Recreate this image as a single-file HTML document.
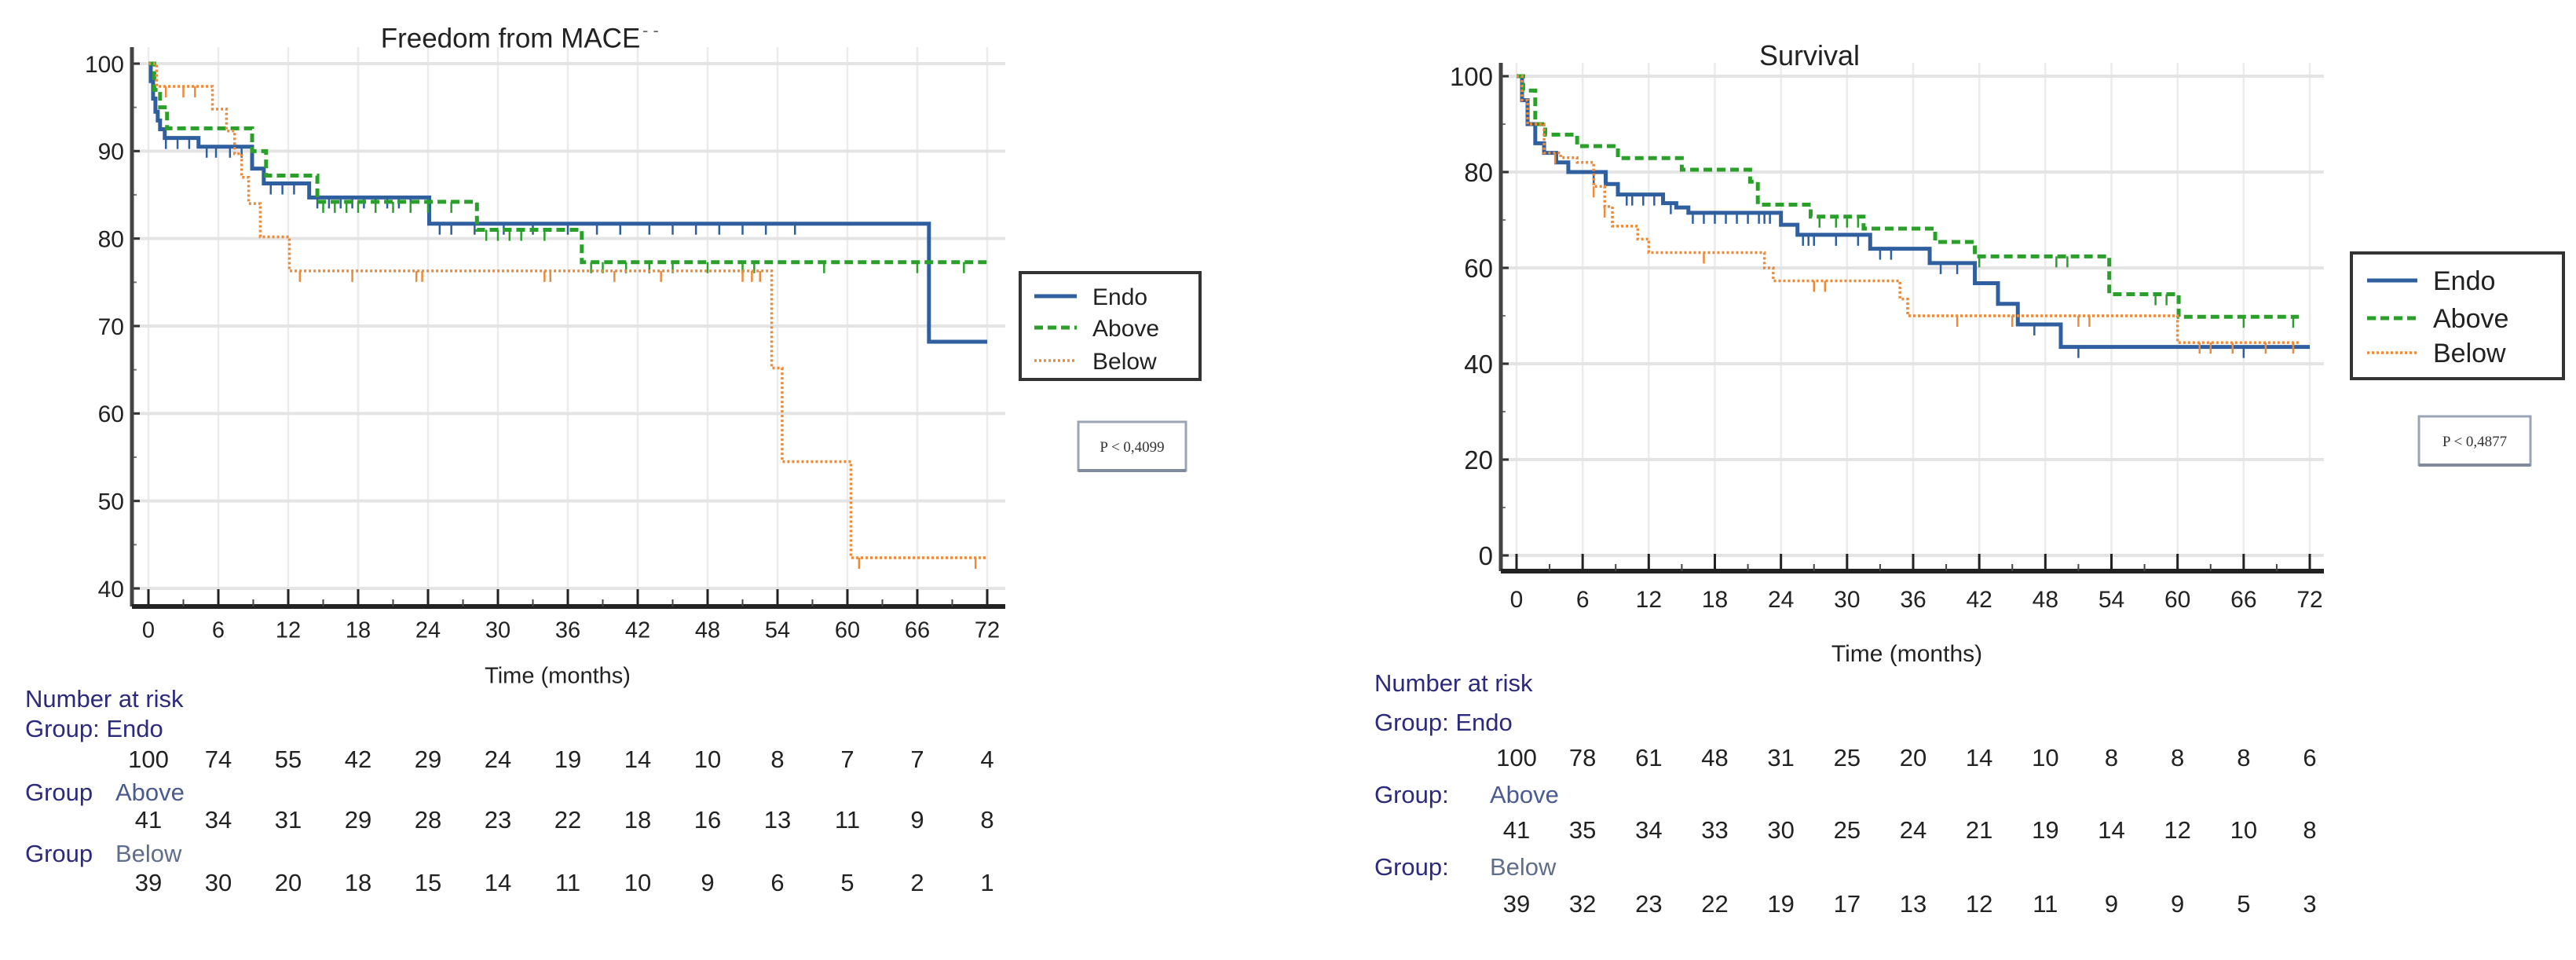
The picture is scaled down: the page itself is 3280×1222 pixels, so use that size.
<!DOCTYPE html>
<html><head><meta charset="utf-8"><style>
html,body{margin:0;padding:0;background:#fff;}
svg{display:block;font-family:"Liberation Sans",Arial,sans-serif;}
</style></head><body>
<svg id="svg" width="3280" height="1222" viewBox="0 0 3280 1222" xmlns="http://www.w3.org/2000/svg"></svg>
<script>
// ===== Panel A: Freedom from MACE =====
const mTicks = [0,6,12,18,24,30,36,42,48,54,60,66,72];
const aYTicks = [40,50,60,70,80,90,100];
const aEndoT = [0.2,0.4,0.6,0.8,1.0,1.4,4.3,8.9,9.9,13.8,24.1,67];
const aEndoS = [98,96,94.5,93.5,92.5,91.5,90.5,88,86.3,84.7,81.7,68.2];
const aAboveT = [0.5,1.0,1.6,8.9,10.1,14.5,28.2,37.2];
const aAboveS = [97,95,92.6,90,87.2,84.2,81,77.3];
const aBelowT = [0.7,5.5,6.7,7.4,8.0,8.6,9.6,12.1,53.5,54.4,60.3];
const aBelowS = [97.4,94.8,92.3,89.7,87,84,80.2,76.3,65.2,54.5,43.5];
const aEndoC = [1.5,2.5,3.5,5,5.8,7,8,10.5,11.5,12.5,14.5,15.5,16.5,17.5,18.5,19.5,20.5,21.5,22.5,25,26,28,30.5,33,36,38.5,40.5,43,45,47,49,51,53,55.5];
const aAboveC = [15,16,17,18,19.5,21,22.5,24,26,29,30,31,32,34,38,39,41,43,45,48,51,52,58,66,70];
const aBelowC = [1.5,3,4,13,17.5,23,23.5,34,34.5,40,44,51,51.8,52.5,61,71];
const aRiskEndo = [100,74,55,42,29,24,19,14,10,8,7,7,4];
const aRiskAbove = [41,34,31,29,28,23,22,18,16,13,11,9,8];
const aRiskBelow = [39,30,20,18,15,14,11,10,9,6,5,2,1];

// ===== Panel B: Survival =====
const bYTicks = [0,20,40,60,80,100];
const bEndoT = [0.5,1,1.7,2.5,3.6,4.7,8.1,9.2,13.3,14.5,15.6,24,25.5,32.1,37.5,41.6,43.7,45.5,49.4];
const bEndoS = [95,90,86,84,82,80,77.5,75.3,73.5,72.6,71.5,69,66.9,64,61,56.8,52.5,48.2,43.5];
const bAboveT = [0.6,1.7,2.6,5.5,9.2,15,21.2,21.9,26.7,31.5,38,41.6,53.8,60.1];
const bAboveS = [97,90,87.8,85.4,82.9,80.5,78,73.2,70.7,68.2,65.4,62.4,54.5,49.8];
const bBelowT = [0.5,1,2.5,4,5.5,7,8,8.7,11,12,22.5,23.3,34.8,35.5,60];
const bBelowS = [95,90,84,83,82,77,72.8,68.7,66,63.2,60,57.3,53.5,50,44.4];
const bEndoC = [7,8,10,10.5,11.5,12.5,14,16,17,18,19,20,21,22,22.5,23,26,26.5,27,29,31,33,34,38.5,40,47,51,66];
const bAboveC = [27.5,29,30,31,42,49,50,58,59,66,70.5];
const bBelowC = [3.5,7,8,17,27,28,40,45,51,52,62,63,65,68,70.5];
const bRiskEndo = [100,78,61,48,31,25,20,14,10,8,8,8,6];
const bRiskAbove = [41,35,34,33,30,25,24,21,19,14,12,10,8];
const bRiskBelow = [39,32,23,22,19,17,13,12,11,9,9,5,3];

const NS = "http://www.w3.org/2000/svg";
const svg = document.getElementById('svg');
function el(tag, attrs, parent, text){
  const e = document.createElementNS(NS, tag);
  for (const k in attrs) e.setAttribute(k, attrs[k]);
  if (text !== undefined) e.textContent = text;
  (parent||svg).appendChild(e);
  return e;
}
const BLUE="#2f5f9e", GREEN="#2aa02a", ORANGE="#ec8a3c", NAVY="#2c2a7c";

function panel(cfg){
  const g = el('g',{});
  
  
  const X = m => cfg.x0 + (m/72)*(cfg.x72-cfg.x0);
  const Y = v => cfg.yTop + (cfg.yMax - v)/(cfg.yMax-cfg.yMin)*(cfg.yBot-cfg.yTop);
  cfg.mTicks.forEach(m=>{
    const l = el('line',{x1:X(m),x2:X(m),y1:cfg.gridTop,y2:cfg.axisY,stroke:'#ebebeb','stroke-width':2.5},g);
    
    
  });
  cfg.yTicks.forEach(v=>{
    const l = el('line',{x1:cfg.axisX,x2:cfg.gridRight,y1:Y(v),y2:Y(v),stroke:'#e4e4e4','stroke-width':4},g);
    
    
    el('line',{x1:cfg.axisX,x2:cfg.axisX+10,y1:Y(v),y2:Y(v),stroke:'#333','stroke-width':3},g);
    const t = el('text',{x:cfg.axisX-10,y:Y(v)+cfg.yFont*0.36,'text-anchor':'end','font-size':cfg.yFont,fill:'#222'},g,String(v));
    
    
  });
  for (let i=0;i<cfg.yTicks.length-1;i++){
    const v=(cfg.yTicks[i]+cfg.yTicks[i+1])/2;
    el('line',{x1:cfg.axisX,x2:cfg.axisX+6,y1:Y(v),y2:Y(v),stroke:'#777','stroke-width':2},g);
  }
  const ya = el('line',{x1:cfg.axisX,x2:cfg.axisX,y1:cfg.gridTop,y2:cfg.axisY,stroke:'#444','stroke-width':5},g);
  
  
  const xa = el('line',{x1:cfg.axisX,x2:cfg.gridRight,y1:cfg.axisY,y2:cfg.axisY,stroke:'#222','stroke-width':6},g);
  
  
  cfg.mTicks.forEach(m=>{
    el('line',{x1:X(m),x2:X(m),y1:cfg.axisY,y2:cfg.axisY-22,stroke:'#222','stroke-width':3},g);
    if (m<72) el('line',{x1:X(m+3),x2:X(m+3),y1:cfg.axisY,y2:cfg.axisY-9,stroke:'#444','stroke-width':2},g);
    const t = el('text',{x:X(m),y:cfg.xLabY+cfg.xFont*0.36,'text-anchor':'middle','font-size':cfg.xFont,fill:'#222'},g,String(m));
    
    
  });
  cfg.series.forEach(s=>{
    let d = `M${X(0)},${Y(100)}`;
    s.t.forEach((tt,i)=>{ d += ` H${X(tt)} V${Y(s.s[i])}`; });
    d += ` H${X(s.end)}`;
    const p = el('path',{d:d,fill:'none',stroke:s.color,'stroke-width':s.w,'stroke-dasharray':s.dash},g);
    
    
    s.c.forEach(ct=>{
      let v=100;
      s.t.forEach((tt,i)=>{ if (tt<=ct) v=s.s[i]; });
      const c = el('line',{x1:X(ct),x2:X(ct),y1:Y(v),y2:Y(v)+cfg.censorLen,stroke:s.color,'stroke-width':2.5},g);
      
      
    });
  });
  const tt = el('text',{x:cfg.titleX,y:cfg.titleY+cfg.titleFont*0.36,'text-anchor':'middle','font-size':cfg.titleFont,fill:'#222'},g,cfg.title);
  
  
  const xt = el('text',{x:cfg.xTitleX,y:cfg.xTitleY+cfg.xFont*0.36,'text-anchor':'middle','font-size':cfg.xFont,fill:'#222'},g,'Time (months)');
  
  
  const L = cfg.legend;
  const lb = el('rect',{x:L.x,y:L.y,width:L.w,height:L.h,fill:'#fff',stroke:'#333','stroke-width':4},g);
  
  
  cfg.series.forEach((s,i)=>{
    const yy = L.rows[i];
    el('line',{x1:L.x+L.lx1,x2:L.x+L.lx2,y1:yy,y2:yy,stroke:s.color,'stroke-width':s.w,'stroke-dasharray':s.dash},g);
    const t = el('text',{x:L.x+L.tx,y:yy+L.font*0.36,'font-size':L.font,fill:'#222'},g,s.label);
    
    
  });
  const P = cfg.pbox;
  const pb = el('rect',{x:P.x,y:P.y,width:P.w,height:P.h,fill:'#fff',stroke:'#9aa4b4','stroke-width':3},g);
  
  
  el('line',{x1:P.x,x2:P.x+P.w,y1:P.y+P.h,y2:P.y+P.h,stroke:'#7f8a9c','stroke-width':4},g);
  const pt = el('text',{x:P.x+P.w/2,y:P.y+P.h/2+7,'text-anchor':'middle','font-size':19,'font-family':'Liberation Serif, serif',fill:'#333'},g,cfg.pText);
  
  
  const R = cfg.risk;
  const mk = (x,y,txt,fill,name,anchor)=>{
    const t = el('text',{x:x,y:y+R.font*0.36,'font-size':R.font,fill:fill,'text-anchor':anchor||'start'},g,txt);
    
    
  };
  mk(R.x,R.nY,'Number at risk',NAVY,'risk-table-title');
  mk(R.x,R.gY[0],'Group: Endo',NAVY,'risk-group-label');
  mk(R.x,R.gY[1],R.gPrefix,NAVY,'risk-group-label');
  mk(R.subX,R.gY[1],'Above','#4b5b8f','risk-group-name');
  mk(R.x,R.gY[2],R.gPrefix,NAVY,'risk-group-label');
  mk(R.subX,R.gY[2],'Below','#5f6e8a','risk-group-name');
  [R.endo,R.above,R.below].forEach((arr,ri)=>{
    arr.forEach((n,i)=>{ mk(X(cfg.mTicks[i]),R.rY[ri],String(n),'#222','risk-count','middle'); });
  });
}

panel({
  name:'mace-panel', title:'Freedom from MACE', titleX:650, titleY:48, titleFont:35,
  x0:189, x72:1257, axisX:168, gridRight:1280, gridTop:60, axisY:772,
  yMin:40, yMax:100, yTop:81, yBot:749, yTicks:aYTicks, mTicks:mTicks,
  yFont:30, xFont:29, xLabY:801, xTitleX:710, xTitleY:859, censorLen:14,
  series:[
    {name:'endo',label:'Endo',color:BLUE,w:5,dash:'none',t:aEndoT,s:aEndoS,c:aEndoC,end:72},
    {name:'above',label:'Above',color:GREEN,w:5,dash:'11,6',t:aAboveT,s:aAboveS,c:aAboveC,end:72},
    {name:'below',label:'Below',color:ORANGE,w:3.5,dash:'3,3',t:aBelowT,s:aBelowS,c:aBelowC,end:72}
  ],
  legend:{x:1299,y:347,w:229,h:136,rows:[377,417,459],lx1:18,lx2:72,tx:92,font:30},
  pbox:{x:1373,y:537,w:137,h:62}, pText:'P < 0,4099',
  risk:{x:32,subX:147,font:31,nY:889,gY:[927,1008,1086],rY:[966,1043,1123],gPrefix:'Group',
    endo:aRiskEndo,above:aRiskAbove,below:aRiskBelow}
});
const dashes = el('text',{x:818,y:46,'font-size':22,fill:'#666'},svg,'- -');


panel({
  name:'survival-panel', title:'Survival', titleX:2304, titleY:70, titleFont:36,
  x0:1931, x72:2941, axisX:1911, gridRight:2959, gridTop:80, axisY:727,
  yMin:0, yMax:100, yTop:97, yBot:707, yTicks:bYTicks, mTicks:mTicks,
  yFont:33, xFont:30, xLabY:762, xTitleX:2428, xTitleY:831, censorLen:14,
  series:[
    {name:'endo',label:'Endo',color:BLUE,w:5,dash:'none',t:bEndoT,s:bEndoS,c:bEndoC,end:72},
    {name:'above',label:'Above',color:GREEN,w:5,dash:'11,6',t:bAboveT,s:bAboveS,c:bAboveC,end:71},
    {name:'below',label:'Below',color:ORANGE,w:3.5,dash:'3,3',t:bBelowT,s:bBelowS,c:bBelowC,end:71}
  ],
  legend:{x:2994,y:322,w:270,h:160,rows:[357,405,449],lx1:20,lx2:84,tx:104,font:34},
  pbox:{x:3080,y:530,w:142,h:62}, pText:'P < 0,4877',
  risk:{x:1750,subX:1897,font:31,nY:869,gY:[919,1011,1103],rY:[964,1056,1150],gPrefix:'Group:',
    endo:bRiskEndo,above:bRiskAbove,below:bRiskBelow}
});
</script>
</body></html>
